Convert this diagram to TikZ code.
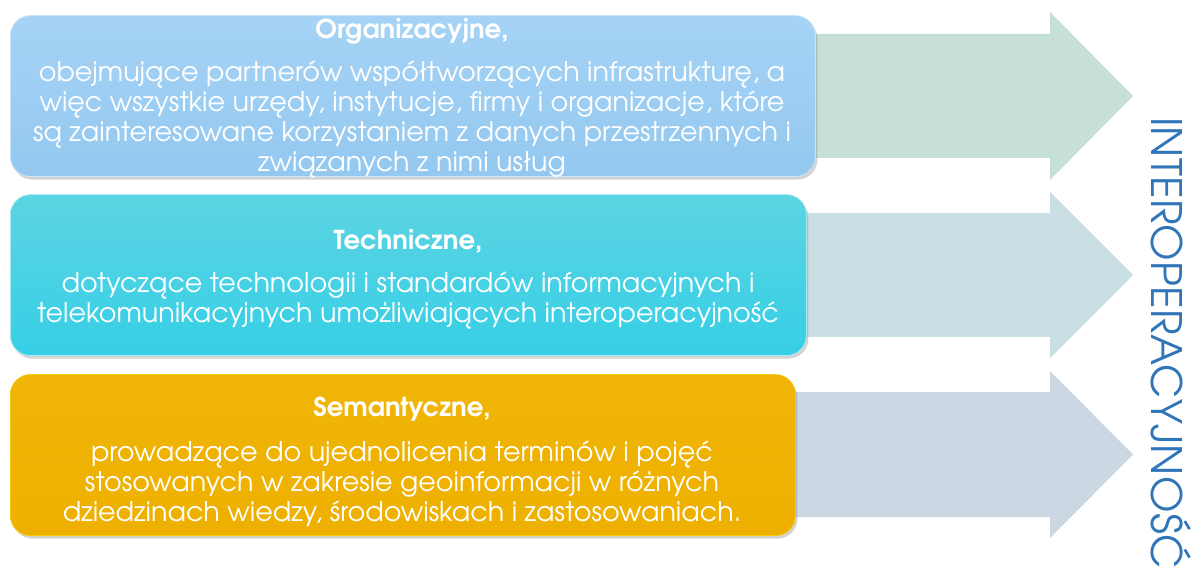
\documentclass[tikz,border=0pt]{standalone}
\usepackage{fontspec}
\setmainfont{texgyreadventor-regular.otf}[BoldFont=texgyreadventor-bold.otf]
\usetikzlibrary{shadows}
\definecolor{boxA}{HTML}{94C8F0}
\definecolor{boxAtop}{HTML}{A6D3F5}
\definecolor{boxB}{HTML}{36CFE6}
\definecolor{boxBtop}{HTML}{5CD4E3}
\definecolor{boxC}{HTML}{EEB000}
\definecolor{boxCtop}{HTML}{F0B508}
\definecolor{arrA}{HTML}{C6DFD9}
\definecolor{arrB}{HTML}{C9DFE3}
\definecolor{arrC}{HTML}{CBD8E4}
\definecolor{vtext}{HTML}{2F75B8}
\begin{document}
\begin{tikzpicture}[x=1pt,y=1pt,
  panel/.style={rounded corners=20pt, drop shadow={shadow xshift=2pt, shadow yshift=-3pt, opacity=0.35}},
  ttl/.style={text=white, font=\bfseries\fontsize{26}{30}\selectfont, inner sep=0pt},
  body/.style={text=white, font=\fontsize{27}{30}\selectfont, align=center, inner sep=0pt}]
\useasboundingbox (0,0) rectangle (1193,568);
\fill[white] (0,0) rectangle (1193,568);
% arrows
\fill[arrA] (700,534) -- (1050,534) -- (1050,556) -- (1133,472) -- (1050,388) -- (1050,410) -- (700,410) -- cycle;
\fill[arrB] (700,355) -- (1050,355) -- (1050,376) -- (1133,293) -- (1050,210) -- (1050,231) -- (700,231) -- cycle;
\fill[arrC] (700,176) -- (1050,176) -- (1050,197) -- (1133,113.5) -- (1050,30) -- (1050,51) -- (700,51) -- cycle;
% boxes
\node[panel, top color=boxAtop, bottom color=boxA, draw=boxAtop!60!white, line width=0.8pt, minimum width=805pt, minimum height=161pt, anchor=south west] (org) at (10,391) {};
\node[panel, top color=boxBtop, bottom color=boxB, draw=boxBtop!50!white, line width=0.8pt, minimum width=796pt, minimum height=161pt, anchor=south west] (tech) at (10,212) {};
\node[panel, top color=boxCtop, bottom color=boxC, draw=boxCtop!70!yellow, line width=0.8pt, minimum width=785pt, minimum height=161pt, anchor=south west] (sem) at (10,32) {};
% texts
\node[ttl] (orgT) at (412,537) {Organizacyjne,};
\node[body, anchor=north] (orgB) at (412,507) {obejmujące partnerów współtworzących infrastrukturę, a\\więc wszystkie urzędy, instytucje, firmy i organizacje, które\\są zainteresowane korzystaniem z danych przestrzennych i\\związanych z nimi usług};
\node[ttl] (techT) at (408,327) {Techniczne,};
\node[body, anchor=north] (techB) at (408,296) {dotyczące technologii i standardów informacyjnych i\\telekomunikacyjnych umożliwiających interoperacyjność};
\node[ttl] (semT) at (402,159) {Semantyczne,};
\node[body, anchor=north] (semB) at (402,127) {prowadzące do ujednolicenia terminów i pojęć\\stosowanych w zakresie geoinformacji w różnych\\dziedzinach wiedzy, środowiskach i zastosowaniach.};
% vertical title
\node[text=vtext, font=\fontsize{42}{42}\selectfont, rotate=-90, anchor=base west, inner sep=0pt] (inter) at (1151,451) {\addfontfeatures{LetterSpace=0.5}INTEROPERACYJNOŚĆ};
\end{tikzpicture}
\end{document}
